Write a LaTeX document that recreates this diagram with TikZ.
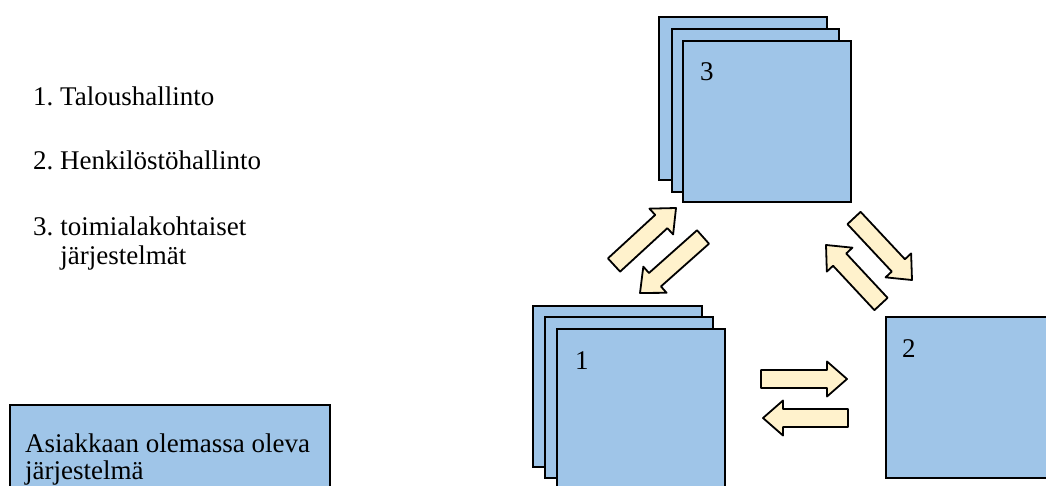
\documentclass[tikz,border=0pt]{standalone}
\usepackage{fontspec}
\setmainfont{Liberation Serif}
\usetikzlibrary{calc}
\definecolor{boxblue}{HTML}{9FC5E8}
\definecolor{arrowfill}{HTML}{FFF2CC}
\tikzset{
  sheet/.style={draw=black, line width=2pt, fill=boxblue},
  blockarr/.style={draw=black, line width=1.8pt, fill=arrowfill, line join=round},
  label/.style={font=\fontsize{27}{30}\selectfont, inner sep=0pt, anchor=base west},
}
% block arrow from tail centre #1 to tip #2
\newcommand\blockarrow[2]{%
  \draw[blockarr]
    ($(#1)!9pt!90:(#2)$) --
    ($($(#2)!20pt!(#1)$)!9pt!-90:(#1)$) --
    ($($(#2)!20pt!(#1)$)!17.5pt!-90:(#1)$) --
    (#2) --
    ($($(#2)!20pt!(#1)$)!17.5pt!90:(#1)$) --
    ($($(#2)!20pt!(#1)$)!9pt!90:(#1)$) --
    ($(#1)!9pt!-90:(#2)$) -- cycle;}
\begin{document}
\frenchspacing
\begin{tikzpicture}[x=1pt,y=-1pt]
\clip (0,0) rectangle (1046,486);
\fill[white] (0,0) rectangle (1046,486);

% legend
\node[label] (l1) at (33,106) {1. Taloushallinto};
\node[label] (l2) at (33,170) {2. Henkilöstöhallinto};
\node[label, anchor=north west] (l3) at (33,214) {\begin{tabular}{@{}l@{\hspace{7pt}}l@{}}3.&toimialakohtaiset\\[-1pt]&järjestelmät\end{tabular}};

% existing system box
\draw[sheet] (10,405) rectangle (330,500);
\node[label] (ex1) at (25,452) {Asiakkaan olemassa oleva};
\node[label] (ex2) at (25,479) {järjestelmä};

% stack 3
\draw[sheet] (659,17) rectangle (827,180);
\draw[sheet] (672,29) rectangle (839,192);
\draw[sheet] (683,41) rectangle (851,202);
\node[label] (n3) at (700,81) {3};

% stack 1
\draw[sheet] (533,306) rectangle (702,467);
\draw[sheet] (545,317) rectangle (713,478);
\draw[sheet] (557,329) rectangle (725,500);
\node[label] (n1) at (575,369) {1};

% box 2
\draw[sheet] (886,317) rectangle (1060,478);
\node[label] (n2) at (902,357) {2};

% arrows
\coordinate (aT) at (614,265); \coordinate (aH) at (676,208);
\coordinate (bT) at (703,237); \coordinate (bH) at (640,293);
\coordinate (cT) at (881,304); \coordinate (cH) at (826,245);
\coordinate (dT) at (854,218); \coordinate (dH) at (912,280);
\coordinate (eT) at (761,379); \coordinate (eH) at (847,379);
\coordinate (fT) at (848,418); \coordinate (fH) at (763,418);
\blockarrow{aT}{aH}
\blockarrow{bT}{bH}
\blockarrow{cT}{cH}
\blockarrow{dT}{dH}
\blockarrow{eT}{eH}
\blockarrow{fT}{fH}
\end{tikzpicture}
\end{document}
